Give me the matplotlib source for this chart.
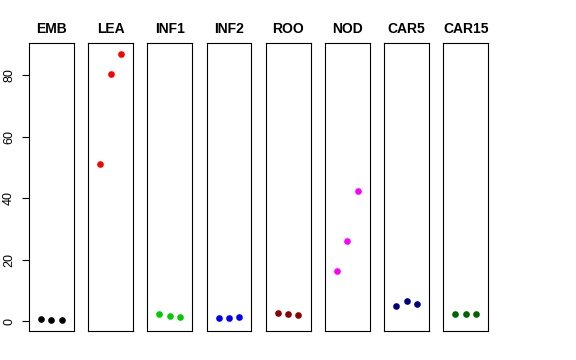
import matplotlib
matplotlib.use("Agg")
import matplotlib.pyplot as plt

categories = ["EMB", "LEA", "INF1", "INF2", "ROO", "NOD", "CAR5", "CAR15"]
values = {
    "EMB":   [0.6, 0.5, 0.3],
    "LEA":   [51.3, 80.5, 87.1],
    "INF1":  [2.5, 1.8, 1.5],
    "INF2":  [1.0, 1.1, 1.4],
    "ROO":   [2.6, 2.2, 1.9],
    "NOD":   [16.5, 26.0, 42.3],
    "CAR5":  [5.0, 6.5, 5.5],
    "CAR15": [2.2, 2.2, 2.5],
}
colors = ["black", "#FF0000", "#00CD00", "#0000FF", "#8B0000", "#FF00FF", "#000080", "#006400"]
yticks = [0, 20, 40, 60, 80]

plt.rcParams['font.family'] = ['Liberation Sans', 'DejaVu Sans']
W, H = 576, 360
fig = plt.figure(figsize=(W / 100, H / 100), dpi=100)

allv = [v for c in categories for v in values[c]]
lo, hi = min(allv), max(allv)
pad = (hi - lo) * 0.04
ylim = (lo - pad, hi + pad)

left0, step, pw = 29, 59.2, 44.7
top, bottom = 43, 331
for i, cat in enumerate(categories):
    x0 = left0 + i * step
    ax = fig.add_axes([x0 / W, 1 - bottom / H, pw / W, (bottom - top) / H])
    ax.plot([1, 2, 3], values[cat], 'o', color=colors[i], ms=4.8, mec='none')
    ax.set_xlim(-0.16, 4.16)
    ax.set_ylim(*ylim)
    ax.set_xticks([])
    for s in ax.spines.values():
        s.set_linewidth(0.8)
        s.set_color('black')
    ax.set_title(cat, fontsize=10, fontweight='bold', pad=7)
    if i == 0:
        ax.set_yticks(yticks)
        ax.set_yticklabels([str(t) for t in yticks], rotation=90, va='center', fontsize=9)
        ax.tick_params(axis='y', length=5, width=0.8, pad=5)
    else:
        ax.set_yticks([])

fig.savefig("out.png", dpi=100)
